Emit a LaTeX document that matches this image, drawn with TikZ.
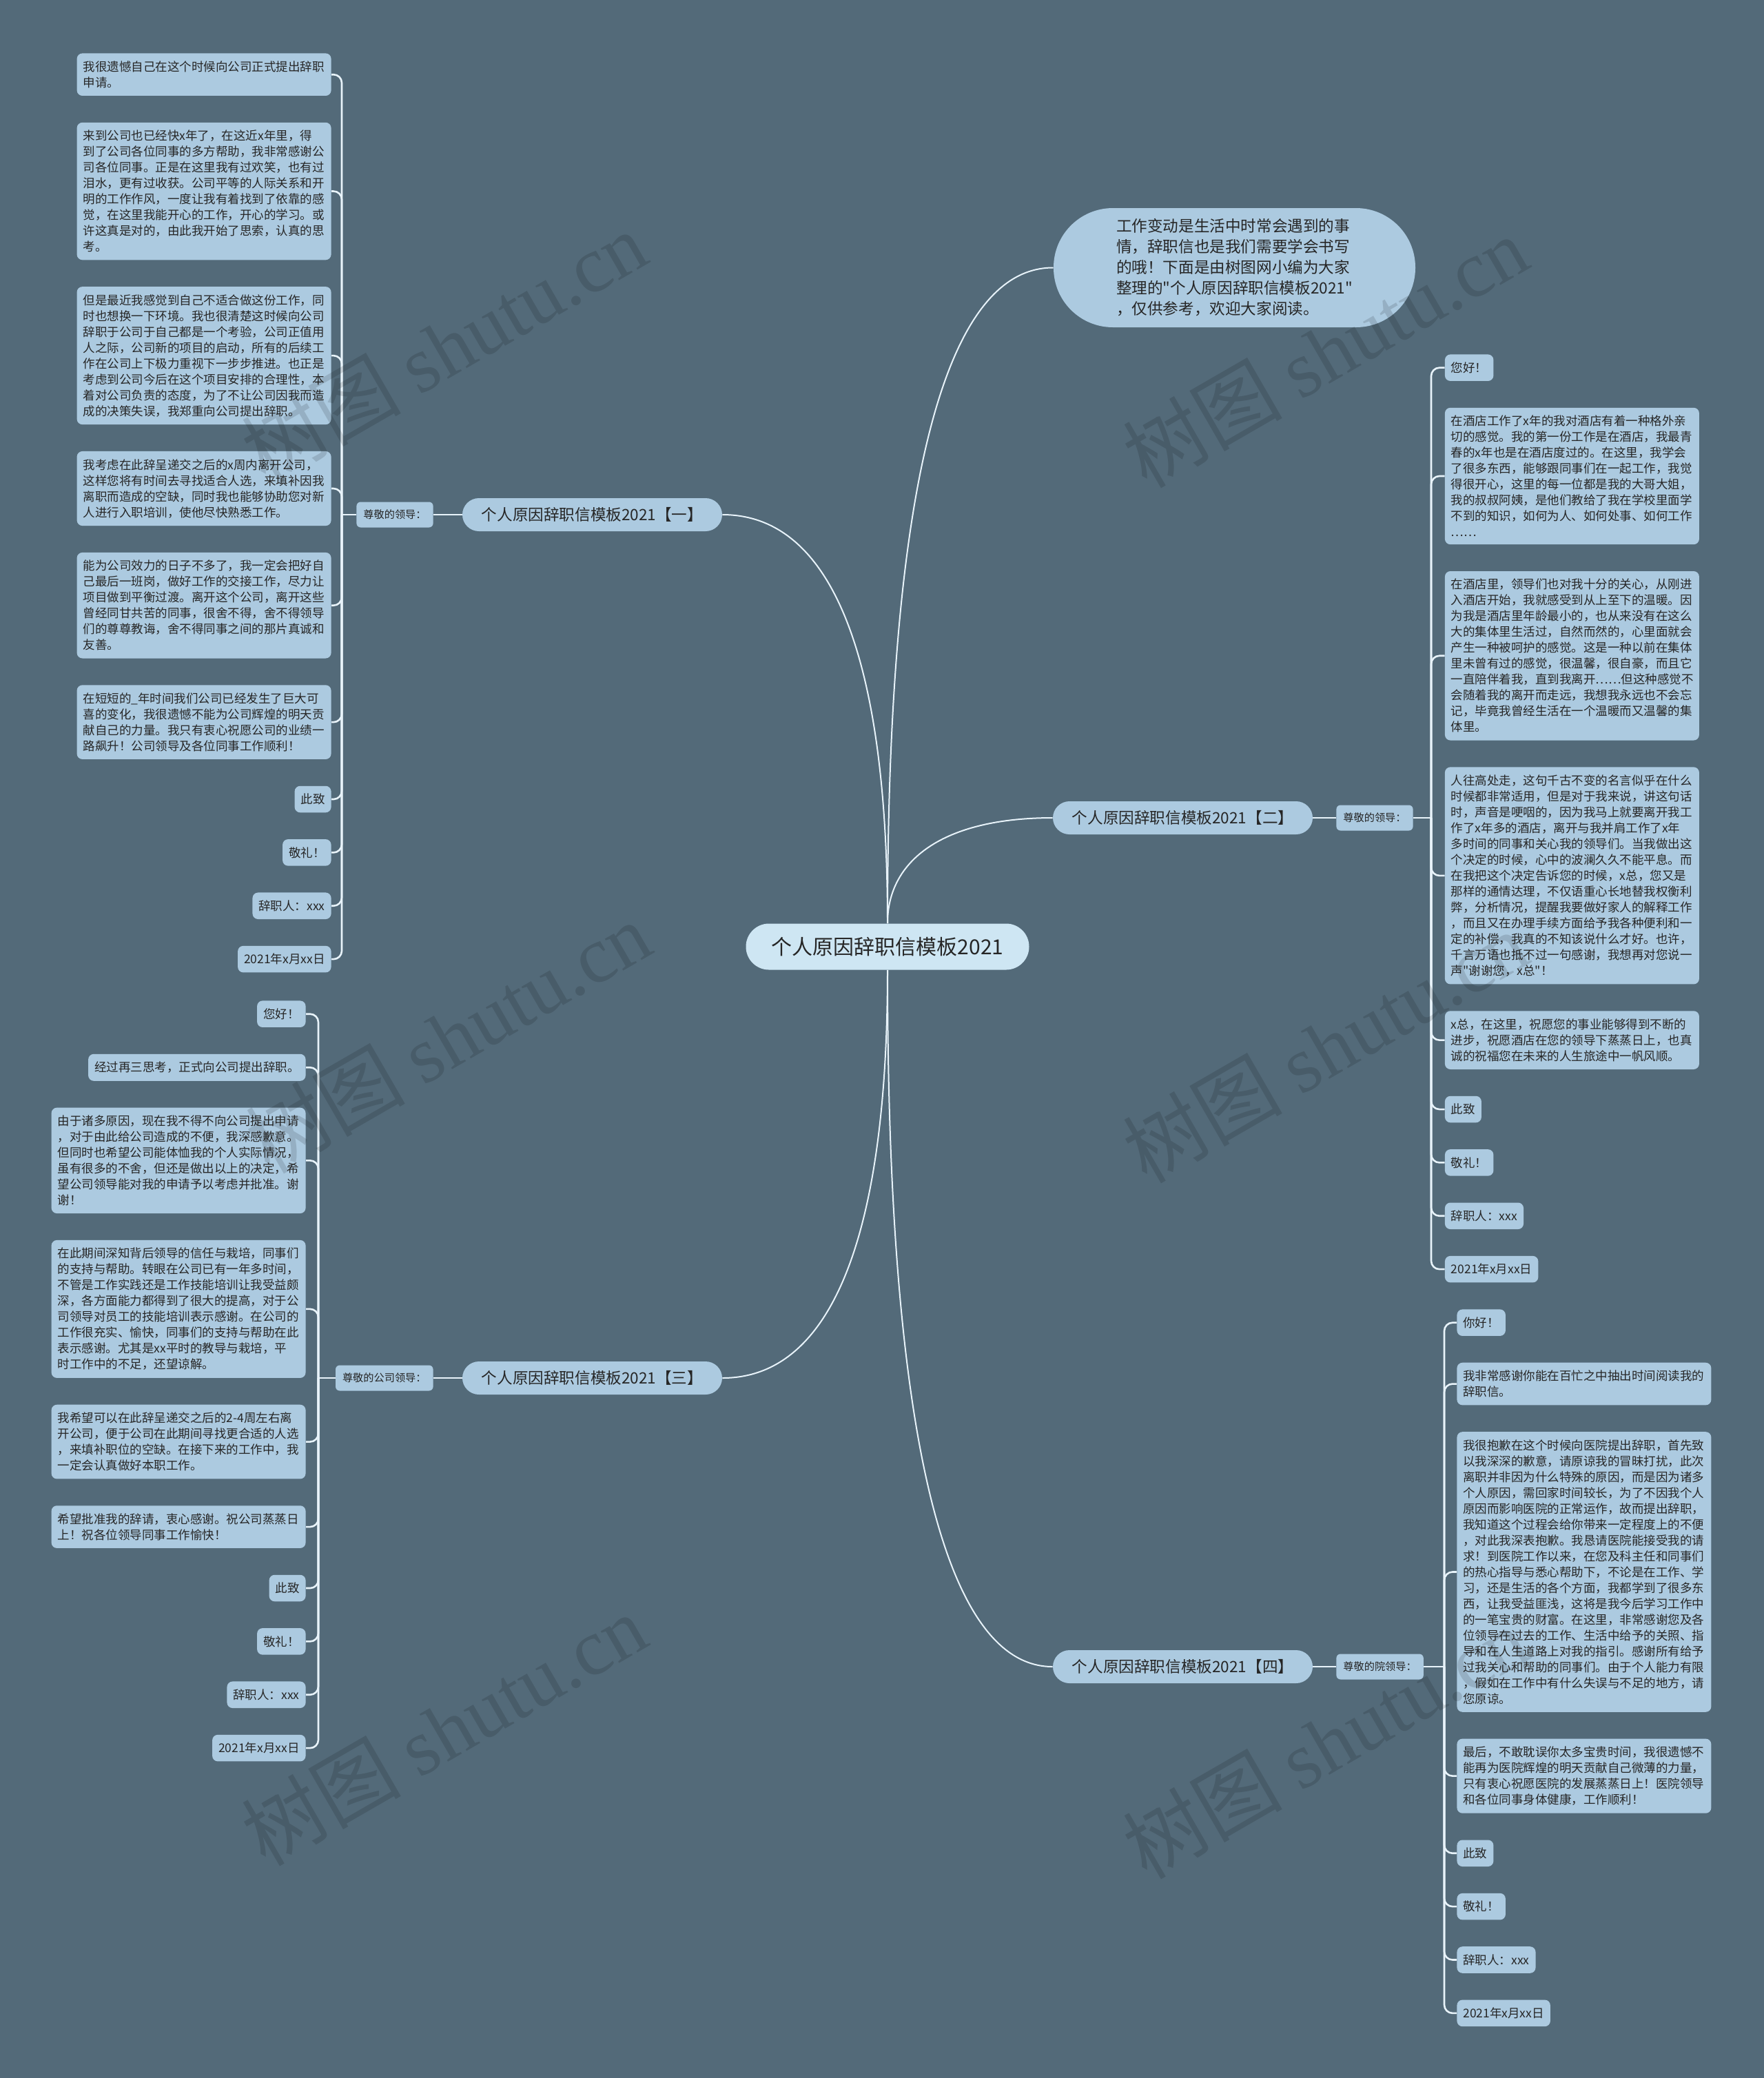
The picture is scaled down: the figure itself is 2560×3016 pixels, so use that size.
\documentclass[tikz,border=0pt]{standalone}
\usepackage{fontspec}
\newfontfamily\cjk{Noto Sans CJK SC}
\newfontfamily\wmserif{Liberation Serif}
\usetikzlibrary{calc}
\definecolor{bgc}{RGB}{83,106,121}
\definecolor{leafc}{RGB}{172,202,224}
\definecolor{ctrc}{RGB}{206,230,243}
\definecolor{txtc}{RGB}{38,38,38}
\definecolor{linec}{RGB}{232,243,250}
\pgfdeclarelayer{bglayer}
\pgfdeclarelayer{edgelayer}
\pgfsetlayers{bglayer,edgelayer,main}
\begin{document}
\begin{tikzpicture}[x=0.5pt,y=-0.5pt,
  leafbox/.style={fill=leafc, rounded corners=4pt, text=txtc, font=\cjk\fontsize{8.75pt}{11.5pt}\selectfont, inner xsep=4.5pt, inner ysep=5.6pt, align=left},
  wide/.style={leafbox, text width=175.5pt},
  labbox/.style={fill=leafc, rounded corners=3pt, text=txtc, font=\cjk\fontsize{7.6pt}{9pt}\selectfont, inner xsep=5pt, inner ysep=0pt, minimum height=18.5pt},
  branch/.style={fill=leafc, rounded corners=12pt, text=txtc, font=\cjk\fontsize{11.3pt}{13pt}\selectfont, minimum width=188.5pt, minimum height=24pt, inner sep=0pt},
  ctrbox/.style={fill=ctrc, rounded corners=16.7pt, text=txtc, font=\cjk\fontsize{15pt}{17pt}\selectfont, minimum width=205.5pt, minimum height=33.5pt, inner sep=0pt},
  introbox/.style={fill=leafc, rounded corners=43pt, text=txtc, font=\cjk\fontsize{11.3pt}{15pt}\selectfont, minimum width=262.5pt, minimum height=86.5pt, inner sep=0pt, align=left},
  mainc/.style={draw=linec, line width=1pt},
  leafl/.style={draw=linec, line width=1.3pt, rounded corners=6pt},
  wm/.style={text=black, text opacity=0.13, rotate=30, font=\fontsize{58pt}{60pt}\selectfont}
]
\path[use as bounding box] (0,0) rectangle (2560,3016);
\begin{pgfonlayer}{bglayer}
\fill[bgc] (0,0) rectangle (2560,3016);
\end{pgfonlayer}

% center and intro
\node[ctrbox] (ctr) at (1288,1374) {个人原因辞职信模板2021};
\node[introbox] (intro) at (1791.5,388.5) {工作变动是生活中时常会遇到的事\\情，辞职信也是我们需要学会书写\\的哦！下面是由树图网小编为大家\\整理的"个人原因辞职信模板2021"\\，仅供参考，欢迎大家阅读。};

% branches
\node[branch] (b1) at (859.5,747) {个人原因辞职信模板2021【一】};
\node[branch] (b2) at (1716.5,1187) {个人原因辞职信模板2021【二】};
\node[branch] (b3) at (859.5,2000) {个人原因辞职信模板2021【三】};
\node[branch] (b4) at (1716.5,2419) {个人原因辞职信模板2021【四】};

\node[labbox, anchor=east] (lab1) at (629,747) {尊敬的领导：};
\node[labbox, anchor=west] (lab2) at (1939,1187) {尊敬的领导：};
\node[labbox, anchor=east] (lab3) at (629,2000) {尊敬的公司领导：};
\node[labbox, anchor=west] (lab4) at (1939,2419) {尊敬的院领导：};

\coordinate (s1) at (496,747);
\coordinate (s2) at (2077,1187);
\coordinate (s3) at (462,2000);
\coordinate (s4) at (2096,2419);

% branch 1 leaves
\node[wide, anchor=north east] (l1a) at (481,77) {我很遗憾自己在这个时候向公司正式提出辞职\\申请。};
\node[wide, anchor=north east] (l1b) at ([yshift=-19pt]l1a.south east) {来到公司也已经快x年了，在这近x年里，得\\到了公司各位同事的多方帮助，我非常感谢公\\司各位同事。正是在这里我有过欢笑，也有过\\泪水，更有过收获。公司平等的人际关系和开\\明的工作作风，一度让我有着找到了依靠的感\\觉，在这里我能开心的工作，开心的学习。或\\许这真是对的，由此我开始了思索，认真的思\\考。};
\node[wide, anchor=north east] (l1c) at ([yshift=-19pt]l1b.south east) {但是最近我感觉到自己不适合做这份工作，同\\时也想换一下环境。我也很清楚这时候向公司\\辞职于公司于自己都是一个考验，公司正值用\\人之际，公司新的项目的启动，所有的后续工\\作在公司上下极力重视下一步步推进。也正是\\考虑到公司今后在这个项目安排的合理性，本\\着对公司负责的态度，为了不让公司因我而造\\成的决策失误，我郑重向公司提出辞职。};
\node[wide, anchor=north east] (l1d) at ([yshift=-19pt]l1c.south east) {我考虑在此辞呈递交之后的x周内离开公司，\\这样您将有时间去寻找适合人选，来填补因我\\离职而造成的空缺，同时我也能够协助您对新\\人进行入职培训，使他尽快熟悉工作。};
\node[wide, anchor=north east] (l1e) at ([yshift=-19pt]l1d.south east) {能为公司效力的日子不多了，我一定会把好自\\己最后一班岗，做好工作的交接工作，尽力让\\项目做到平衡过渡。离开这个公司，离开这些\\曾经同甘共苦的同事，很舍不得，舍不得领导\\们的尊尊教诲，舍不得同事之间的那片真诚和\\友善。};
\node[wide, anchor=north east] (l1f) at ([yshift=-19pt]l1e.south east) {在短短的\_年时间我们公司已经发生了巨大可\\喜的变化，我很遗憾不能为公司辉煌的明天贡\\献自己的力量。我只有衷心祝愿公司的业绩一\\路飙升！公司领导及各位同事工作顺利！};
\node[leafbox, anchor=north east] (l1g) at ([yshift=-19pt]l1f.south east) {此致};
\node[leafbox, anchor=north east] (l1h) at ([yshift=-19pt]l1g.south east) {敬礼！};
\node[leafbox, anchor=north east] (l1i) at ([yshift=-19pt]l1h.south east) {辞职人：xxx};
\node[leafbox, anchor=north east] (l1j) at ([yshift=-19pt]l1i.south east) {2021年x月xx日};

% branch 2 leaves
\node[leafbox, anchor=north west] (l2a) at (2096.5,514) {您好！};
\node[wide, anchor=north west] (l2b) at ([yshift=-19pt]l2a.south west) {在酒店工作了x年的我对酒店有着一种格外亲\\切的感觉。我的第一份工作是在酒店，我最青\\春的x年也是在酒店度过的。在这里，我学会\\了很多东西，能够跟同事们在一起工作，我觉\\得很开心，这里的每一位都是我的大哥大姐，\\我的叔叔阿姨，是他们教给了我在学校里面学\\不到的知识，如何为人、如何处事、如何工作\\……};
\node[wide, anchor=north west] (l2c) at ([yshift=-19pt]l2b.south west) {在酒店里，领导们也对我十分的关心，从刚进\\入酒店开始，我就感受到从上至下的温暖。因\\为我是酒店里年龄最小的，也从来没有在这么\\大的集体里生活过，自然而然的，心里面就会\\产生一种被呵护的感觉。这是一种以前在集体\\里未曾有过的感觉，很温馨，很自豪，而且它\\一直陪伴着我，直到我离开……但这种感觉不\\会随着我的离开而走远，我想我永远也不会忘\\记，毕竟我曾经生活在一个温暖而又温馨的集\\体里。};
\node[wide, anchor=north west] (l2d) at ([yshift=-19pt]l2c.south west) {人往高处走，这句千古不变的名言似乎在什么\\时候都非常适用，但是对于我来说，讲这句话\\时，声音是哽咽的，因为我马上就要离开我工\\作了x年多的酒店，离开与我并肩工作了x年\\多时间的同事和关心我的领导们。当我做出这\\个决定的时候，心中的波澜久久不能平息。而\\在我把这个决定告诉您的时候，x总，您又是\\那样的通情达理，不仅语重心长地替我权衡利\\弊，分析情况，提醒我要做好家人的解释工作\\，而且又在办理手续方面给予我各种便利和一\\定的补偿，我真的不知该说什么才好。也许，\\千言万语也抵不过一句感谢，我想再对您说一\\声"谢谢您，x总"！};
\node[wide, anchor=north west] (l2e) at ([yshift=-19pt]l2d.south west) {x总，在这里，祝愿您的事业能够得到不断的\\进步，祝愿酒店在您的领导下蒸蒸日上，也真\\诚的祝福您在未来的人生旅途中一帆风顺。};
\node[leafbox, anchor=north west] (l2f) at ([yshift=-19pt]l2e.south west) {此致};
\node[leafbox, anchor=north west] (l2g) at ([yshift=-19pt]l2f.south west) {敬礼！};
\node[leafbox, anchor=north west] (l2h) at ([yshift=-19pt]l2g.south west) {辞职人：xxx};
\node[leafbox, anchor=north west] (l2i) at ([yshift=-19pt]l2h.south west) {2021年x月xx日};

% branch 3 leaves
\node[leafbox, anchor=north east] (l3a) at (444,1452) {您好！};
\node[leafbox, anchor=north east] (l3b) at ([yshift=-19pt]l3a.south east) {经过再三思考，正式向公司提出辞职。};
\node[wide, anchor=north east] (l3c) at ([yshift=-19pt]l3b.south east) {由于诸多原因，现在我不得不向公司提出申请\\，对于由此给公司造成的不便，我深感歉意。\\但同时也希望公司能体恤我的个人实际情况，\\虽有很多的不舍，但还是做出以上的决定，希\\望公司领导能对我的申请予以考虑并批准。谢\\谢！};
\node[wide, anchor=north east] (l3d) at ([yshift=-19pt]l3c.south east) {在此期间深知背后领导的信任与栽培，同事们\\的支持与帮助。转眼在公司已有一年多时间，\\不管是工作实践还是工作技能培训让我受益颇\\深，各方面能力都得到了很大的提高，对于公\\司领导对员工的技能培训表示感谢。在公司的\\工作很充实、愉快，同事们的支持与帮助在此\\表示感谢。尤其是xx平时的教导与栽培，平\\时工作中的不足，还望谅解。};
\node[wide, anchor=north east] (l3e) at ([yshift=-19pt]l3d.south east) {我希望可以在此辞呈递交之后的2-4周左右离\\开公司，便于公司在此期间寻找更合适的人选\\，来填补职位的空缺。在接下来的工作中，我\\一定会认真做好本职工作。};
\node[wide, anchor=north east] (l3f) at ([yshift=-19pt]l3e.south east) {希望批准我的辞请，衷心感谢。祝公司蒸蒸日\\上！祝各位领导同事工作愉快！};
\node[leafbox, anchor=north east] (l3g) at ([yshift=-19pt]l3f.south east) {此致};
\node[leafbox, anchor=north east] (l3h) at ([yshift=-19pt]l3g.south east) {敬礼！};
\node[leafbox, anchor=north east] (l3i) at ([yshift=-19pt]l3h.south east) {辞职人：xxx};
\node[leafbox, anchor=north east] (l3j) at ([yshift=-19pt]l3i.south east) {2021年x月xx日};

% branch 4 leaves
\node[leafbox, anchor=north west] (l4a) at (2114,1900) {你好！};
\node[wide, anchor=north west] (l4b) at ([yshift=-19pt]l4a.south west) {我非常感谢你能在百忙之中抽出时间阅读我的\\辞职信。};
\node[wide, anchor=north west] (l4c) at ([yshift=-19pt]l4b.south west) {我很抱歉在这个时候向医院提出辞职，首先致\\以我深深的歉意，请原谅我的冒昧打扰，此次\\离职并非因为什么特殊的原因，而是因为诸多\\个人原因，需回家时间较长，为了不因我个人\\原因而影响医院的正常运作，故而提出辞职，\\我知道这个过程会给你带来一定程度上的不便\\，对此我深表抱歉。我恳请医院能接受我的请\\求！到医院工作以来，在您及科主任和同事们\\的热心指导与悉心帮助下，不论是在工作、学\\习，还是生活的各个方面，我都学到了很多东\\西，让我受益匪浅，这将是我今后学习工作中\\的一笔宝贵的财富。在这里，非常感谢您及各\\位领导在过去的工作、生活中给予的关照、指\\导和在人生道路上对我的指引。感谢所有给予\\过我关心和帮助的同事们。由于个人能力有限\\，假如在工作中有什么失误与不足的地方，请\\您原谅。};
\node[wide, anchor=north west] (l4d) at ([yshift=-19pt]l4c.south west) {最后，不敢耽误你太多宝贵时间，我很遗憾不\\能再为医院辉煌的明天贡献自己微薄的力量，\\只有衷心祝愿医院的发展蒸蒸日上！医院领导\\和各位同事身体健康，工作顺利！};
\node[leafbox, anchor=north west] (l4e) at ([yshift=-19pt]l4d.south west) {此致};
\node[leafbox, anchor=north west] (l4f) at ([yshift=-19pt]l4e.south west) {敬礼！};
\node[leafbox, anchor=north west] (l4g) at ([yshift=-19pt]l4f.south west) {辞职人：xxx};
\node[leafbox, anchor=north west] (l4h) at ([yshift=-19pt]l4g.south west) {2021年x月xx日};

% connectors
\begin{pgfonlayer}{edgelayer}
\draw[mainc] (ctr) .. controls (1288,717) and (1368,388) .. (intro.west);
\draw[mainc] (ctr) .. controls (1288,956) and (1208,747) .. (b1.east);
\draw[mainc] (ctr) .. controls (1288,1249) and (1368,1187) .. (b2.west);
\draw[mainc] (ctr) .. controls (1288,1791) and (1208,2000) .. (b3.east);
\draw[mainc] (ctr) .. controls (1288,2071) and (1368,2419) .. (b4.west);
\draw[mainc] (b1.west) -- (lab1.east);
\draw[mainc] (b2.east) -- (lab2.west);
\draw[mainc] (b3.west) -- (lab3.east);
\draw[mainc] (b4.east) -- (lab4.west);
\draw[leafl] (lab1.west) -- (s1);
\draw[leafl] (lab2.east) -- (s2);
\draw[leafl] (lab3.west) -- (s3);
\draw[leafl] (lab4.east) -- (s4);
\foreach \n in {l1a,l1b,l1c,l1d,l1e,l1f,l1g,l1h,l1i,l1j} \draw[leafl] (s1) |- (\n.east);
\foreach \n in {l2a,l2b,l2c,l2d,l2e,l2f,l2g,l2h,l2i} \draw[leafl] (s2) |- (\n.west);
\foreach \n in {l3a,l3b,l3c,l3d,l3e,l3f,l3g,l3h,l3i,l3j} \draw[leafl] (s3) |- (\n.east);
\foreach \n in {l4a,l4b,l4c,l4d,l4e,l4f,l4g,l4h} \draw[leafl] (s4) |- (\n.west);
\end{pgfonlayer}

% watermarks
\node[wm] (wm1) at (644,503) {\cjk 树图 \wmserif shutu.cn};
\node[wm] (wm2) at (650,1505) {\cjk 树图 \wmserif shutu.cn};
\node[wm] (wm3) at (644,2510) {\cjk 树图 \wmserif shutu.cn};
\node[wm] (wm4) at (1923,510) {\cjk 树图 \wmserif shutu.cn};
\node[wm] (wm5) at (1923,1519) {\cjk 树图 \wmserif shutu.cn};
\node[wm] (wm6) at (1923,2529) {\cjk 树图 \wmserif shutu.cn};
\end{tikzpicture}
\end{document}
